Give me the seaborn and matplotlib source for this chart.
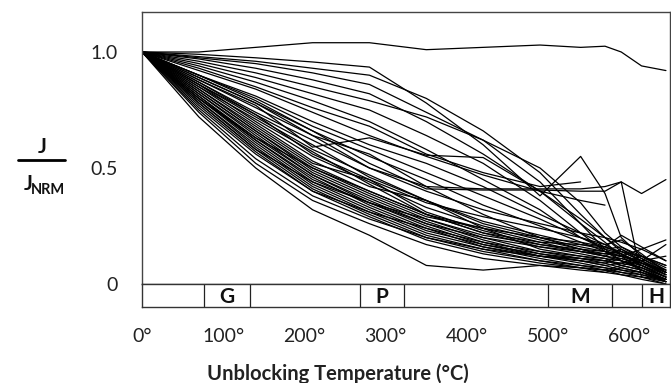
import numpy as np
import pandas as pd
import matplotlib
matplotlib.use('Agg')
import matplotlib.pyplot as plt
from matplotlib.lines import Line2D
import seaborn as sns

# temperature steps (°C)
temps = [0, 70, 140, 210, 280, 350, 420, 490, 540, 570, 590, 615, 645]

nan = np.nan
# J / J_NRM for each specimen
curves = [
    [1.00, 1.00, 1.02, 1.04, 1.04, 1.01, 1.02, 1.03, 1.02, 1.025, 1.00, 0.94, 0.92],
    [1.00, 0.99, 0.975, 0.957, 0.935, 0.78, 0.60, 0.38, 0.55, 0.39, 0.20, 0.12, 0.06],
    [1.00, 0.98, 0.96, 0.93, 0.90, 0.80, 0.66, 0.48, 0.30, 0.20, 0.14, 0.10, 0.04],
    [1.00, 0.975, 0.95, 0.91, 0.86, 0.74, 0.62, 0.44, 0.26, 0.18, 0.12, 0.09, 0.05],
    [1.00, 0.97, 0.93, 0.88, 0.82, 0.70, 0.56, 0.40, 0.26, 0.15, 0.10, 0.08, 0.03],
    [1.00, 0.96, 0.91, 0.85, 0.79, 0.72, 0.62, 0.50, 0.35, 0.22, 0.16, 0.12, 0.08],
    [1.00, 0.95, 0.89, 0.82, 0.75, 0.64, 0.52, 0.36, 0.22, 0.14, 0.12, 0.10, 0.17],
    [1.00, 0.94, 0.87, 0.79, 0.70, 0.58, 0.45, 0.32, 0.20, 0.16, 0.13, 0.09, 0.05],
    [1.00, 0.93, 0.85, 0.76, 0.68, 0.56, 0.48, 0.42, 0.44, nan, nan, nan, nan],
    [1.00, 0.88, 0.77, 0.59, 0.63, 0.555, 0.545, 0.40, 0.28, 0.20, 0.15, 0.10, 0.05],
    [1.00, 0.90, 0.79, 0.66, 0.52, 0.41, 0.405, 0.405, 0.40, 0.40, 0.44, 0.39, 0.45],
    [1.00, 0.89, 0.78, 0.64, 0.50, 0.42, 0.41, 0.41, 0.41, 0.42, 0.44, 0.03, 0.02],
    [1.00, 0.92, 0.84, 0.74, 0.64, 0.55, 0.47, 0.40, 0.36, 0.34, nan, nan, nan],
    [1.00, 0.90, 0.80, 0.68, 0.58, 0.48, 0.38, 0.28, 0.20, 0.15, 0.13, 0.08, 0.03],
    [1.00, 0.89, 0.78, 0.66, 0.55, 0.45, 0.34, 0.25, 0.18, 0.14, 0.10, 0.07, 0.02],
    [1.00, 0.88, 0.76, 0.64, 0.56, 0.42, 0.30, 0.20, 0.15, 0.12, 0.11, 0.09, 0.06],
    [1.00, 0.87, 0.74, 0.62, 0.50, 0.40, 0.32, 0.26, 0.22, 0.20, 0.18, 0.15, 0.10],
    [1.00, 0.86, 0.73, 0.60, 0.46, 0.36, 0.26, 0.20, 0.16, 0.14, 0.12, 0.06, 0.01],
    [1.00, 0.90, 0.81, 0.70, 0.60, 0.52, 0.42, 0.30, 0.22, 0.17, 0.19, 0.13, 0.05],
    [1.00, 0.86, 0.70, 0.55, 0.44, 0.33, 0.25, 0.19, 0.15, 0.13, 0.12, 0.09, 0.04],
    [1.00, 0.85, 0.69, 0.53, 0.42, 0.36, 0.24, 0.18, 0.14, 0.12, 0.10, 0.07, 0.03],
    [1.00, 0.84, 0.68, 0.52, 0.45, 0.31, 0.23, 0.17, 0.14, 0.13, 0.14, 0.10, 0.05],
    [1.00, 0.84, 0.67, 0.51, 0.40, 0.30, 0.22, 0.16, 0.13, 0.11, 0.08, 0.06, 0.02],
    [1.00, 0.83, 0.66, 0.50, 0.39, 0.29, 0.24, 0.15, 0.12, 0.10, 0.09, 0.12, 0.08],
    [1.00, 0.83, 0.66, 0.49, 0.38, 0.28, 0.20, 0.14, 0.11, 0.09, 0.07, 0.05, 0.01],
    [1.00, 0.82, 0.65, 0.48, 0.37, 0.27, 0.19, 0.13, 0.10, 0.08, 0.09, 0.07, 0.03],
    [1.00, 0.82, 0.64, 0.47, 0.36, 0.26, 0.18, 0.12, 0.09, 0.07, 0.06, 0.04, 0.01],
    [1.00, 0.81, 0.63, 0.47, 0.35, 0.25, 0.17, 0.12, 0.10, 0.09, 0.11, 0.08, 0.04],
    [1.00, 0.81, 0.62, 0.46, 0.34, 0.24, 0.16, 0.11, 0.08, 0.07, 0.05, 0.03, 0.00],
    [1.00, 0.80, 0.62, 0.45, 0.35, 0.26, 0.20, 0.16, 0.14, 0.12, 0.15, 0.11, 0.06],
    [1.00, 0.80, 0.61, 0.44, 0.33, 0.23, 0.17, 0.13, 0.11, 0.10, 0.08, 0.10, 0.12],
    [1.00, 0.79, 0.60, 0.43, 0.32, 0.22, 0.16, 0.12, 0.10, 0.08, 0.06, 0.05, 0.02],
    [1.00, 0.79, 0.59, 0.42, 0.31, 0.21, 0.15, 0.10, 0.08, 0.06, 0.04, 0.03, 0.01],
    [1.00, 0.78, 0.58, 0.41, 0.30, 0.20, 0.14, 0.10, 0.07, 0.06, 0.08, 0.06, 0.02],
    [1.00, 0.78, 0.58, 0.44, 0.35, 0.28, 0.21, 0.17, 0.15, 0.14, 0.13, 0.09, 0.04],
    [1.00, 0.77, 0.57, 0.40, 0.29, 0.19, 0.13, 0.09, 0.07, 0.05, 0.04, 0.02, 0.00],
    [1.00, 0.76, 0.56, 0.40, 0.31, 0.24, 0.18, 0.14, 0.12, 0.11, 0.10, 0.06, 0.02],
    [1.00, 0.75, 0.54, 0.38, 0.28, 0.20, 0.15, 0.12, 0.11, 0.10, 0.12, 0.15, 0.19],
    [1.00, 0.74, 0.52, 0.36, 0.26, 0.17, 0.11, 0.08, 0.06, 0.05, 0.07, 0.05, 0.01],
    [1.00, 0.72, 0.50, 0.32, 0.21, 0.08, 0.06, 0.08, 0.07, 0.06, 0.05, 0.04, 0.02],
    [1.00, 0.86, 0.72, 0.58, 0.47, 0.36, 0.27, 0.21, 0.17, 0.15, 0.16, 0.11, 0.05],
    [1.00, 0.87, 0.73, 0.56, 0.45, 0.35, 0.29, 0.24, 0.20, 0.17, 0.13, 0.08, 0.03],
    [1.00, 0.85, 0.71, 0.57, 0.43, 0.30, 0.24, 0.20, 0.18, 0.16, 0.14, 0.12, 0.07],
    [1.00, 0.80, 0.63, 0.50, 0.40, 0.30, 0.22, 0.18, 0.17, 0.16, 0.21, 0.16, 0.10],
]

# unblocking ranges of the magnetic minerals
minerals = ['G', 'P', 'M', 'H']
mineral_lo = [76, 268, 500, 616]
mineral_hi = [133, 323, 578, 650]

xticks = [0, 100, 200, 300, 400, 500, 600]
xticklabels = ['0°', '100°', '200°', '300°', '400°', '500°', '600°']
yticks = [0, 0.5, 1.0]
yticklabels = ['0', '0.5', '1.0']

rows = []
for i, c in enumerate(curves):
    for t, v in zip(temps, c):
        rows.append({'sample': i, 'T': t, 'J': v})
df = pd.DataFrame(rows).dropna()

sns.set_style('white')
plt.rcParams['font.family'] = ['Lato', 'DejaVu Sans']

W, H = 671, 383
fig = plt.figure(figsize=(W / 100, H / 100), dpi=100)
ax = fig.add_axes([142 / W, 1 - 284 / H, 528 / W, 272 / H])
strip = fig.add_axes([142 / W, 1 - 307 / H, 528 / W, 23 / H])

sns.lineplot(data=df, x='T', y='J', units='sample', estimator=None,
             color='black', linewidth=0.9, ax=ax, legend=False)

ax.set_xlim(0, 650)
ax.set_ylim(0, 272 / 232)
ax.set_xlabel('')
ax.set_ylabel('')
ax.set_xticks(xticks[1:])
ax.tick_params(axis='x', direction='in', length=5, width=0.8, color='#333333',
               labelbottom=False)
ax.set_yticks(yticks)
ax.set_yticklabels(yticklabels)
ax.tick_params(axis='y', direction='inout', length=9, width=1.2, color='black',
               pad=13, labelsize=14, labelcolor='#222222')
for s in ax.spines.values():
    s.set_color('#444444')
    s.set_linewidth(1.0)

# mineral strip
strip.set_xlim(0, 650)
strip.set_ylim(0, 1)
strip.set_yticks([])
for name, lo, hi in zip(minerals, mineral_lo, mineral_hi):
    strip.axvline(lo, color='#222222', lw=0.9)
    if hi < 650:
        strip.axvline(hi, color='#222222', lw=0.9)
    strip.text((lo + hi) / 2, 0.42, name, ha='center', va='center',
               fontsize=15, fontweight='bold', color='#111111')
strip.set_xticks(xticks)
strip.set_xticklabels(xticklabels)
strip.tick_params(axis='x', length=0, pad=15, labelsize=14, labelcolor='#222222')
for s in strip.spines.values():
    s.set_color('#333333')
    s.set_linewidth(1.0)

fig.text(338 / W, 1 - 374 / H, 'Unblocking Temperature (°C)', ha='center',
         va='center', fontsize=14.5, fontweight='bold', color='#222222')

# y label: J over J_NRM
fig.text(42 / W, 1 - 147 / H, 'J', ha='center', va='center', fontsize=15,
         fontweight='bold', color='#111111')
fig.add_artist(Line2D([18 / W, 65 / W], [1 - 160 / H] * 2, color='black', lw=2))
fig.text(28 / W, 1 - 184 / H, 'J', ha='center', va='center', fontsize=15,
         fontweight='bold', color='#111111')
fig.text(48 / W, 1 - 190 / H, 'NRM', ha='center', va='center', fontsize=10.5,
         fontweight='bold', color='#111111')

fig.savefig('out.png', dpi=100, facecolor='white')
